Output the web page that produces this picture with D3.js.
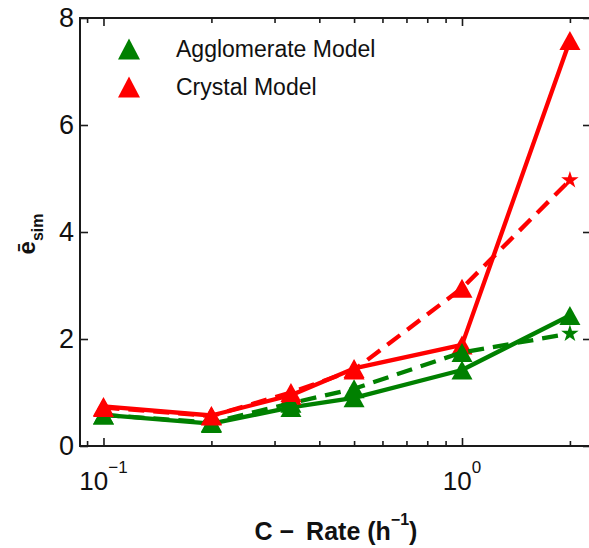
<!DOCTYPE html>
<html>
<head>
<meta charset="utf-8">
<script src="https://cdn.jsdelivr.net/npm/d3@7"></script>
<style>
  body { margin: 0; background: #fff; }
  svg { display: block; }
  text { font-family: "Liberation Sans", Arial, Helvetica, sans-serif; fill: #111; }
</style>
</head>
<body>
<svg id="chart" width="589" height="548"></svg>
<script>
// C-rates (h^-1) on the logarithmic x axis
const cRates = [0.1, 0.2, 1 / 3, 0.5, 1, 2];

// mean simulated error per C-rate
const agglomerateSolid  = [0.58, 0.42, 0.72, 0.90, 1.42, 2.44];
const agglomerateDashed = [0.58, 0.44, 0.80, 1.07, 1.75, 2.10];
const crystalSolid      = [0.74, 0.57, 0.95, 1.45, 1.89, 7.58];
const crystalDashed     = [0.72, 0.56, 1.00, 1.42, 2.95, 4.97];

const yTickValues = [0, 2, 4, 6, 8];
const xMajorTickValues = [0.1, 1];
const xMajorExponents = ["\u22121", "0"];
const xMinorTickValues = [0.09, 0.2, 0.3, 0.4, 0.5, 0.6, 0.7, 0.8, 0.9, 2];
const legendLabels = ["Agglomerate Model", "Crystal Model"];

const GREEN = "#008000";
const RED = "#ff0000";

const svg = d3.select("#chart");
const plotLeft = 80, plotRight = 591, plotTop = 18, plotBottom = 446;

const x = d3.scaleLog().domain([0.0860, 2.290]).range([plotLeft, plotRight]);
const y = d3.scaleLinear().domain([0, 8]).range([plotBottom, plotTop]);

// ---- axes with inward ticks on all four sides ----
const axisColor = "#1a1a1a";
function styleAxis(g) {
  g.select(".domain").remove();
  g.selectAll(".tick line").attr("stroke", axisColor).attr("stroke-width", 1.6);
}

svg.append("g").attr("transform", `translate(0,${plotBottom})`)
  .call(d3.axisBottom(x).tickValues(xMajorTickValues).tickSize(-8).tickFormat(() => ""))
  .call(styleAxis);
svg.append("g").attr("transform", `translate(0,${plotBottom})`)
  .call(d3.axisBottom(x).tickValues(xMinorTickValues).tickSize(-5).tickFormat(() => ""))
  .call(styleAxis);
svg.append("g").attr("transform", `translate(0,${plotTop})`)
  .call(d3.axisTop(x).tickValues(xMajorTickValues).tickSize(-8).tickFormat(() => ""))
  .call(styleAxis);
svg.append("g").attr("transform", `translate(0,${plotTop})`)
  .call(d3.axisTop(x).tickValues(xMinorTickValues).tickSize(-5).tickFormat(() => ""))
  .call(styleAxis);

const yAxisLeft = svg.append("g").attr("transform", `translate(${plotLeft},0)`)
  .call(d3.axisLeft(y).tickValues(yTickValues).tickSize(-8).tickPadding(6).tickFormat(d3.format("d")))
  .call(styleAxis);
yAxisLeft.selectAll(".tick text")
  .attr("font-size", 27).attr("fill", "#111")
  .style("font-family", '"Liberation Sans", Arial, sans-serif');

svg.append("g").attr("transform", `translate(${plotRight},0)`)
  .call(d3.axisRight(y).tickValues(yTickValues).tickSize(-8).tickFormat(() => ""))
  .call(styleAxis);

// frame
svg.append("rect")
  .attr("x", plotLeft).attr("y", plotTop)
  .attr("width", plotRight - plotLeft).attr("height", plotBottom - plotTop)
  .attr("fill", "none").attr("stroke", axisColor).attr("stroke-width", 2);

// x tick labels as powers of ten
xMajorTickValues.forEach((v, i) => {
  const t = svg.append("text")
    .attr("x", x(v)).attr("y", 490)
    .attr("text-anchor", "middle")
    .attr("font-size", 26);
  t.append("tspan").text("10");
  t.append("tspan").attr("font-size", 17).attr("dy", -17).text(xMajorExponents[i]);
});

// axis titles
const xTitle = svg.append("text")
  .attr("x", 336).attr("y", 540)
  .attr("text-anchor", "middle")
  .attr("font-size", 25).attr("font-weight", "bold");
xTitle.append("tspan").text("C \u2212\u2009 Rate (h");
xTitle.append("tspan").attr("font-size", 16).attr("dy", -15).text("\u22121");
xTitle.append("tspan").attr("dy", 15).text(")");

const yTitle = svg.append("text")
  .attr("transform", "translate(35,234) rotate(-90)")
  .attr("text-anchor", "middle")
  .attr("font-size", 24).attr("font-weight", "bold");
yTitle.append("tspan").text("\u0113");
yTitle.append("tspan").attr("font-size", 16).attr("dy", 8).text("sim");

// ---- series ----
function trianglePath(w, h) {
  return `M0,${-h / 2}L${w / 2},${h / 2}L${-w / 2},${h / 2}Z`;
}
const starPath = d3.symbol().type(d3.symbolStar).size(95)();

const series = [
  { values: agglomerateSolid,  color: GREEN, dashed: false },
  { values: crystalSolid,      color: RED,   dashed: false },
  { values: agglomerateDashed, color: GREEN, dashed: true },
  { values: crystalDashed,     color: RED,   dashed: true }
];

const line = d3.line().x(d => x(d[0])).y(d => y(d[1]));

series.forEach(s => {
  const pts = cRates.map((c, i) => [c, s.values[i]]);
  const g = svg.append("g");
  g.append("path")
    .attr("d", line(pts))
    .attr("fill", "none")
    .attr("stroke", s.color)
    .attr("stroke-width", 4.3)
    .attr("stroke-linejoin", "round")
    .attr("stroke-dasharray", s.dashed ? "16,9" : null);
  g.selectAll("path.marker")
    .data(pts)
    .join("path")
    .attr("class", "marker")
    .attr("transform", d => `translate(${x(d[0])},${y(d[1])})`)
    .attr("d", (d, i) => (s.dashed && i === pts.length - 1) ? starPath : trianglePath(21, 19))
    .attr("fill", s.color);
});

// ---- legend ----
const legendColors = [GREEN, RED];
legendLabels.forEach((label, i) => {
  const ly = 49 + i * 38;
  svg.append("path")
    .attr("transform", `translate(129,${ly})`)
    .attr("d", trianglePath(22, 21))
    .attr("fill", legendColors[i]);
  svg.append("text")
    .attr("x", 176).attr("y", ly)
    .attr("dy", "0.35em")
    .attr("font-size", 23)
    .text(label);
});
</script>
</body>
</html>
